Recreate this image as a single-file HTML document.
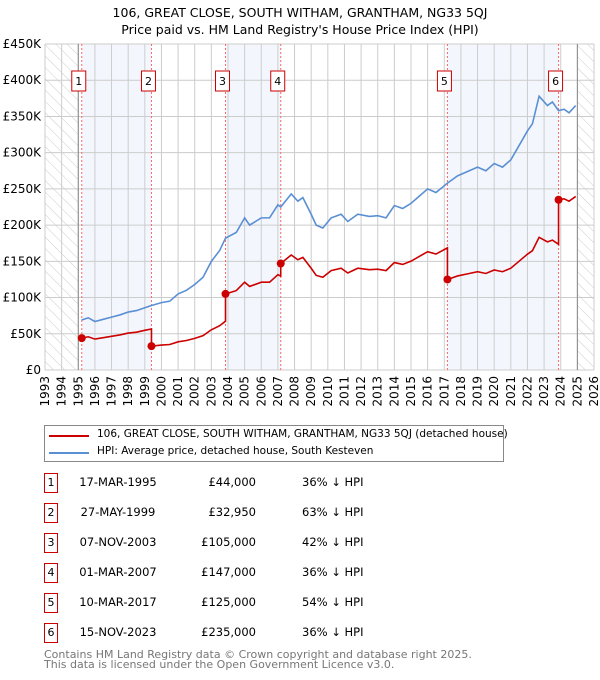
<!DOCTYPE html>
<html><head><meta charset="utf-8"><style>
body{margin:0;background:#fff;font-family:"DejaVu Sans","Liberation Sans",sans-serif;}
#wrap{position:relative;width:600px;height:680px;overflow:hidden}
.t{position:absolute;font-size:11.5px;color:#000;white-space:nowrap}
.nb{position:absolute;width:14px;height:20px;border:1px solid #c00;font-size:11px;text-align:center;line-height:17px;box-sizing:border-box}
</style></head><body><div id="wrap">
<svg id="chart" width="600" height="420" style="position:absolute;left:0;top:0" font-family="DejaVu Sans, Liberation Sans, sans-serif">
<defs><pattern id="hatch" width="8" height="8" patternUnits="userSpaceOnUse" patternTransform="rotate(-45)"><line x1="0" y1="0" x2="0" y2="8" stroke="#ccc" stroke-width="1"/></pattern></defs>
<text x="300" y="17" text-anchor="middle" font-size="12.5">106, GREAT CLOSE, SOUTH WITHAM, GRANTHAM, NG33 5QJ</text>
<text x="300" y="34" text-anchor="middle" font-size="12.5">Price paid vs. HM Land Registry's House Price Index (HPI)</text>
<g id="g"></g>
</svg>
<div class="t" style="left:44px;top:425px;width:460px;height:37px;border:1px solid #888;box-sizing:border-box"></div>
<div style="position:absolute;left:49px;top:435px;width:40px;height:2px;background:#c00"></div>
<div class="t" style="left:97px;top:428px;font-size:10.5px">106, GREAT CLOSE, SOUTH WITHAM, GRANTHAM, NG33 5QJ (detached house)</div>
<div style="position:absolute;left:49px;top:452px;width:40px;height:2px;background:#5b8fd4"></div>
<div class="t" style="left:97px;top:445px;font-size:10.5px">HPI: Average price, detached house, South Kesteven</div>
<div id="tbl"></div>
<div class="t" style="left:44px;top:650px;font-size:11px;color:#777;line-height:10px">Contains HM Land Registry data © Crown copyright and database right 2025.<br>This data is licensed under the Open Government Licence v3.0.</div>
</div>
<script>
const hpiYears=[1995.2,1995.6,1996,1996.5,1997,1997.5,1998,1998.5,1999,1999.4,2000,2000.5,2001,2001.5,2002,2002.5,2003,2003.5,2003.85,2004.5,2005,2005.3,2006,2006.5,2007,2007.17,2007.8,2008.2,2008.5,2009,2009.3,2009.7,2010.2,2010.8,2011.2,2011.8,2012.5,2013,2013.5,2014,2014.5,2015,2015.5,2016,2016.5,2017.19,2017.8,2018.5,2019,2019.5,2020,2020.5,2021,2021.5,2022,2022.3,2022.7,2023.2,2023.5,2023.87,2024.2,2024.5,2024.9];
const hpiValues=[69,72,67,70,73,76,80,82,86,89,93,95,105,110,118,128,150,165,182,190,210,200,210,210,228,225,243,233,238,215,200,196,210,215,205,215,212,213,210,227,223,230,240,250,245,258,268,275,280,275,285,280,290,310,330,340,378,365,370,358,360,355,365];
const saleYears=[1995.21,1999.40,2003.85,2007.17,2017.19,2023.87];
const salePrices=[44000,32950,105000,147000,125000,235000];
const saleDates=["17-MAR-1995","27-MAY-1999","07-NOV-2003","01-MAR-2007","10-MAR-2017","15-NOV-2023"];
const salePriceLabels=["£44,000","£32,950","£105,000","£147,000","£125,000","£235,000"];
const saleHpiLabels=["36% ↓ HPI","63% ↓ HPI","42% ↓ HPI","36% ↓ HPI","54% ↓ HPI","36% ↓ HPI"];
const yTicks=[0,50,100,150,200,250,300,350,400,450];
const yTickLabels=["£0","£50K","£100K","£150K","£200K","£250K","£300K","£350K","£400K","£450K"];
const xMin=1993,xMax=2026,L=45,R=594,T=44,B=370;
const X=y=>L+(y-xMin)*(R-L)/(xMax-xMin);
const Y=v=>B-v*(B-T)/450;
const g=document.getElementById('g');const NS='http://www.w3.org/2000/svg';
function mk(tag,at,parent){const e=document.createElementNS(NS,tag);for(const k in at)e.setAttribute(k,at[k]);(parent||g).appendChild(e);return e;}
let e;
for(let i=0;i<saleYears.length;i+=2){const x2=i+1<saleYears.length?saleYears[i+1]:2025;
e=mk('rect',{x:X(saleYears[i]),y:T,width:X(x2)-X(saleYears[i]),height:B-T,fill:'#eef3fc',opacity:0.7});

}
e=mk('rect',{x:L,y:T,width:X(1995)-L,height:B-T,fill:'url(#hatch)'});


e=mk('rect',{x:X(2025),y:T,width:R-X(2025),height:B-T,fill:'url(#hatch)'});


for(let y=xMin;y<=xMax;y++){e=mk('line',{x1:X(y),x2:X(y),y1:T,y2:B,stroke:'#ccc','stroke-width':1});


e=mk('text',{x:0,y:0,transform:`translate(${X(y)+4},${B+6}) rotate(-90)`,'text-anchor':'end','font-size':12});e.textContent=y;

}
yTicks.forEach((v,i)=>{e=mk('line',{x1:L,x2:R,y1:Y(v),y2:Y(v),stroke:'#ccc','stroke-width':1});


e=mk('text',{x:L-4,y:Y(v)+4,'text-anchor':'end','font-size':12});e.textContent=yTickLabels[i];

});
e=mk('line',{x1:X(1995),x2:X(1995),y1:T,y2:B,stroke:'#888'});
e=mk('line',{x1:X(2025),x2:X(2025),y1:T,y2:B,stroke:'#888'});
function hpiAt(t){for(let i=0;i<hpiYears.length-1;i++){if(t<=hpiYears[i+1]){const f=(t-hpiYears[i])/(hpiYears[i+1]-hpiYears[i]);return hpiValues[i]+f*(hpiValues[i+1]-hpiValues[i]);}}return hpiValues[hpiValues.length-1];}
saleYears.forEach((s,i)=>{e=mk('line',{x1:X(s),x2:X(s),y1:T,y2:B,stroke:'#f66','stroke-dasharray':'2,2'});

});
e=mk('polyline',{points:hpiYears.map((t,i)=>X(t)+','+Y(hpiValues[i])).join(' '),fill:'none',stroke:'#5b8fd4','stroke-width':1.6});


let pts=[];
saleYears.forEach((s,i)=>{const r=salePrices[i]/1000/hpiAt(s);const end=i+1<saleYears.length?saleYears[i+1]:2024.9;
if(i>0)pts.push(X(s)+','+Y(salePrices[i-1]/1000/hpiAt(saleYears[i-1])*hpiAt(s)));
pts.push(X(s)+','+Y(salePrices[i]/1000));
hpiYears.forEach((t,j)=>{if(t>s&&t<end)pts.push(X(t)+','+Y(hpiValues[j]*r));});
if(i==saleYears.length-1)pts.push(X(end)+','+Y(hpiAt(end)*r));});
e=mk('polyline',{points:pts.join(' '),fill:'none',stroke:'#c00','stroke-width':1.6});


saleYears.forEach((s,i)=>{e=mk('circle',{cx:X(s),cy:Y(salePrices[i]/1000),r:4,fill:'#c00'});


e=mk('rect',{x:X(s)-10,y:71,width:14,height:20,fill:'#fff',stroke:'#c00'});


e=mk('text',{x:X(s)-3,y:85,'text-anchor':'middle','font-size':11});e.textContent=i+1;

});
const tb=document.getElementById('tbl');
saleYears.forEach((s,i)=>{const cy=483+i*30;
const r=document.createElement('div');
r.innerHTML=`<div class="nb" style="left:44px;top:${cy-10}px">${i+1}</div>
<div class="t" style="left:68px;width:100px;text-align:center;top:${cy-8}px">${saleDates[i]}</div>
<div class="t" style="left:156px;width:100px;text-align:right;top:${cy-8}px">${salePriceLabels[i]}</div>
<div class="t" style="left:302px;top:${cy-8}px">${saleHpiLabels[i]}</div>`;
tb.appendChild(r);});
</script></body></html>
